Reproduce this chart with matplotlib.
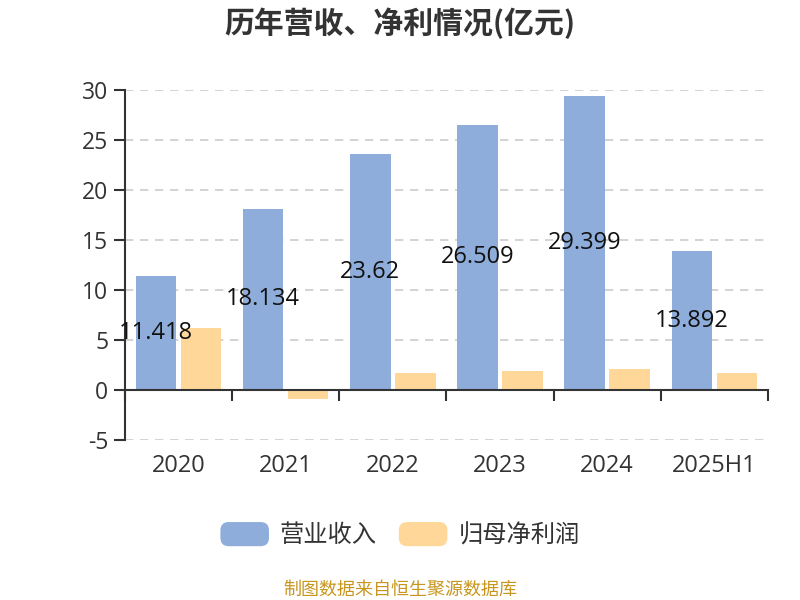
import matplotlib
matplotlib.use('Agg')
import matplotlib.pyplot as plt
import numpy as np
from matplotlib.patches import FancyBboxPatch, Patch
from matplotlib.legend_handler import HandlerPatch

# data
years = ['2020', '2021', '2022', '2023', '2024', '2025H1']
revenue = [11.418, 18.134, 23.62, 26.509, 29.399, 13.892]
net_profit = [6.23, -0.93, 1.67, 1.87, 2.13, 1.73]
series_names = ['营业收入', '归母净利润']
yticks = [-5, 0, 5, 10, 15, 20, 25, 30]

BLUE = '#8eaddb'
ORANGE = '#ffd899'
CJK = ['Noto Sans CJK SC', 'DejaVu Sans']
NUM = ['Open Sans', 'Noto Sans CJK SC']

plt.rcParams['font.family'] = CJK


class RoundHandler(HandlerPatch):
    def create_artists(self, legend, orig_handle, xdescent, ydescent,
                       width, height, fontsize, trans):
        p = FancyBboxPatch((-xdescent, -ydescent), width, height,
                           boxstyle='round,pad=0,rounding_size=6',
                           facecolor=orig_handle.get_facecolor(),
                           edgecolor='none', transform=trans)
        return [p]


fig = plt.figure(figsize=(8, 6), dpi=100)
ax = fig.add_axes([0.156, 0.2667, 0.804, 0.5833])

x = np.arange(len(years))
w = 0.38
off = 0.21
ax.bar(x - off, revenue, w, color=BLUE, zorder=3)
ax.bar(x + off, net_profit, w, color=ORANGE, zorder=3)

# revenue labels sit at the middle of each bar
for xi, v in zip(x, revenue):
    ax.text(xi - off, v / 2, f'{v:g}', ha='center', va='center',
            fontsize=17, family=NUM, color='#111111', zorder=4)

ax.set_xlim(-0.5, len(years) - 0.5)
ax.set_ylim(-5, 30)
ax.set_yticks(yticks)
ax.set_yticklabels([str(t) for t in yticks], family=NUM, fontsize=16.5,
                   color='#333333')
ax.yaxis.grid(True, linestyle=(0, (5, 4)), color='#cccccc', linewidth=1.2,
              zorder=0)
ax.tick_params(axis='y', length=8, width=1.5, color='#333333', pad=4)

# zero line with ticks at the category boundaries
ax.set_xticks(np.arange(len(years) + 1) - 0.5)
ax.set_xticklabels([])
ax.tick_params(axis='x', length=8, width=1.5, color='#333333')
for s in ['top', 'right']:
    ax.spines[s].set_visible(False)
ax.spines['bottom'].set_position(('data', 0))
ax.spines['bottom'].set_color('#333333')
ax.spines['bottom'].set_linewidth(1.5)
ax.spines['bottom'].set_zorder(5)
ax.spines['left'].set_color('#333333')
ax.spines['left'].set_linewidth(1.5)

# category names below the plot area
sec = ax.secondary_xaxis('bottom')
sec.set_xticks(x)
sec.set_xticklabels(years, family=NUM, fontsize=17, color='#333333')
sec.tick_params(length=0, pad=10)
sec.spines['bottom'].set_visible(False)

fig.text(0.5, 0.962, '历年营收、净利情况(亿元)', ha='center', va='center',
         fontsize=21.5, fontweight='bold', color='#333333')

handles = [Patch(facecolor=BLUE), Patch(facecolor=ORANGE)]
fig.legend(handles, series_names, loc='center', bbox_to_anchor=(0.5, 0.108),
           ncol=2, frameon=False, fontsize=17.5, handlelength=2.0,
           handleheight=1.15, handletextpad=0.45, columnspacing=0.9,
           handler_map={Patch: RoundHandler()}, labelcolor='#333333')

fig.text(0.5, 0.018, '制图数据来自恒生聚源数据库', ha='center', va='center',
         fontsize=13, color='#c8961e')

fig.savefig('out.png', dpi=100)
